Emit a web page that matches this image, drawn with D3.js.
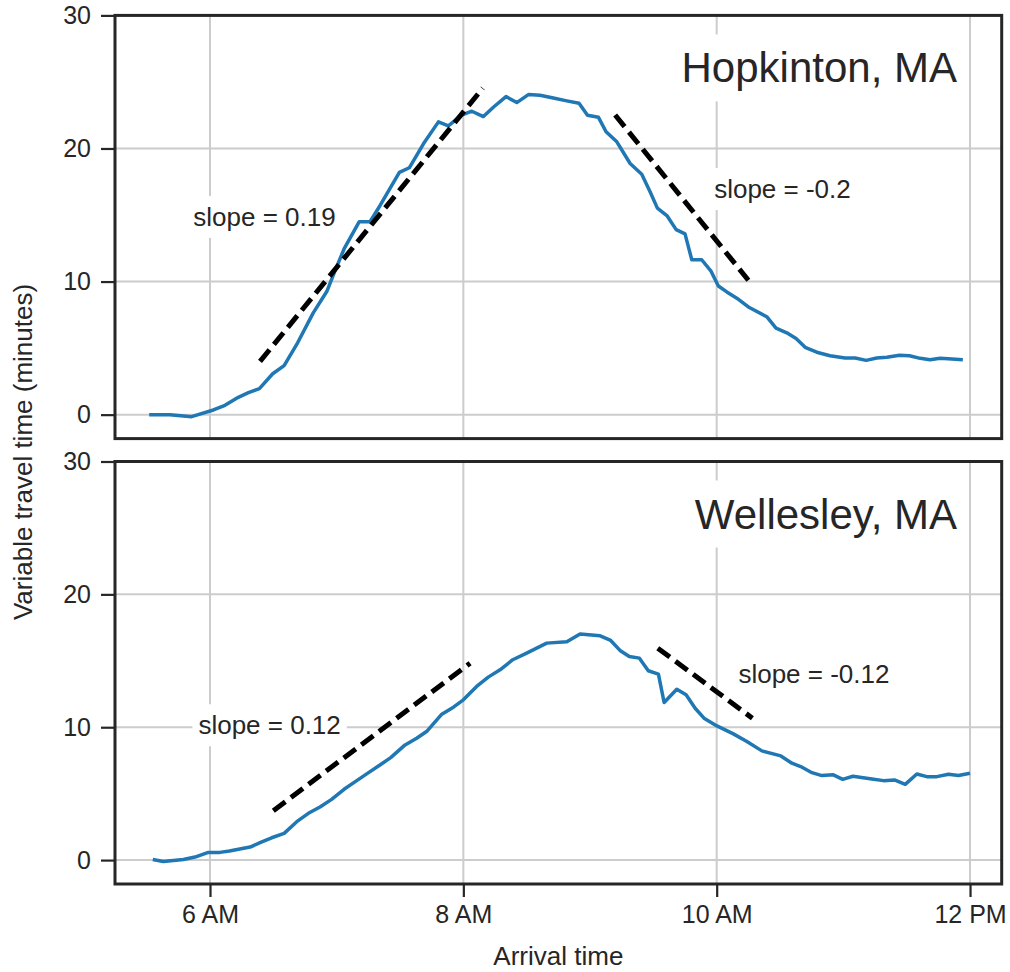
<!DOCTYPE html>
<html>
<head>
<meta charset="utf-8">
<script src="https://cdn.jsdelivr.net/npm/d3@7"></script>
<style>
    body { margin: 0; background: #fff; }
    text { font-family: "Liberation Sans", Arial, sans-serif; fill: #262626; }
</style>
</head>
<body>
<div id="chart"></div>
<script>

//******************************************************************************
//**  Data (minutes after midnight, variable travel time in minutes)
//******************************************************************************
var hopkintonTimes = [331.2, 341.0, 351.3, 361.6, 367.1, 373.4, 378.2, 383.4, 389.7, 395.1,
    401.5, 408.9, 415.3, 419.2, 423.5, 430.7, 435.8, 440.5, 449.7, 454.4,
    461.1, 468.2, 472.9, 479.2, 484.0, 489.5, 494.2, 500.2, 505.3, 510.8,
    516.3, 522.6, 529.0, 534.8, 538.8, 544.0, 547.6, 552.7, 559.0, 564.5,
    568.5, 571.9, 576.4, 580.8, 585.0, 588.2, 592.9, 597.2, 600.8, 604.8,
    610.3, 615.0, 623.7, 628.1, 633.2, 637.6, 641.9, 647.4, 653.7, 660.8,
    665.6, 670.8, 675.8, 680.6, 686.6, 691.3, 696.4, 701.1, 705.8, 711.4, 716.6];
var hopkintonValues = [0.0, 0.0, -0.15, 0.35, 0.7, 1.3, 1.65, 1.95, 3.07, 3.68,
    5.4, 7.65, 9.25, 10.8, 12.45, 14.5, 14.5, 15.7, 18.2, 18.55,
    20.35, 22.0, 21.7, 22.5, 22.8, 22.4, 23.1, 23.9, 23.45, 24.05,
    24.0, 23.8, 23.58, 23.4, 22.5, 22.34, 21.26, 20.5, 18.87, 18.06,
    16.73, 15.52, 14.96, 13.9, 13.58, 11.64, 11.64, 10.81, 9.67, 9.22,
    8.67, 8.09, 7.36, 6.5, 6.15, 5.72, 5.06, 4.69, 4.43, 4.26,
    4.26, 4.08, 4.26, 4.31, 4.46, 4.43, 4.23, 4.13, 4.23, 4.18, 4.13];

var wellesleyTimes = [332.9, 337.9, 347.4, 352.9, 359.2, 364.7, 369.2, 379.0, 383.7, 389.2,
    395.1, 401.1, 406.6, 412.1, 417.6, 423.5, 429.5, 435.8, 440.5, 445.6,
    452.4, 457.9, 462.9, 469.8, 475.3, 480.0, 486.3, 491.8, 497.4, 503.4,
    510.0, 519.5, 529.0, 535.3, 544.8, 549.8, 554.2, 558.6, 563.4, 567.6,
    572.4, 575.1, 581.1, 585.5, 589.8, 594.0, 600.1, 607.9, 614.3, 621.4,
    630.4, 635.6, 639.8, 645.1, 649.8, 655.0, 659.7, 664.5, 673.5, 679.0,
    684.2, 689.3, 694.8, 699.5, 704.3, 709.8, 714.5, 720.0];
var wellesleyValues = [0.05, -0.1, 0.05, 0.23, 0.58, 0.58, 0.68, 0.98, 1.31, 1.68,
    2.01, 2.89, 3.52, 4.0, 4.57, 5.33, 5.98, 6.66, 7.16, 7.71,
    8.67, 9.17, 9.72, 10.98, 11.51, 12.06, 13.07, 13.77, 14.32, 15.08,
    15.58, 16.33, 16.43, 17.01, 16.88, 16.53, 15.78, 15.33, 15.2, 14.25,
    14.0, 11.86, 12.86, 12.44, 11.43, 10.68, 10.1, 9.5, 8.92, 8.22,
    7.84, 7.29, 7.04, 6.58, 6.36, 6.43, 6.08, 6.31, 6.11, 5.98,
    6.03, 5.7, 6.48, 6.28, 6.28, 6.46, 6.36, 6.53];

// fitted slope segments: [startTime, startValue, endTime, endValue]
var hopkintonFits = [[383.7, 4.0, 489.2, 24.53], [551.9, 22.52, 615.0, 10.1]];
var wellesleyFits = [[390.0, 3.72, 483.2, 14.82], [572.1, 15.95, 616.9, 10.68]];

// slope labels: [text, time at left edge, value at baseline]
var hopkintonSlopes = [["slope = 0.19", 352.1, 14.18], ["slope = -0.2", 598.8, 16.28]];
var wellesleySlopes = [["slope = 0.12", 354.5, 9.47], ["slope = -0.12", 610.3, 13.31]];

var panelTitles = ["Hopkinton, MA", "Wellesley, MA"];
var xTicks = [360, 480, 600, 720];
var xTickLabels = ["6 AM", "8 AM", "10 AM", "12 PM"];
var yTicks = [0, 10, 20, 30];


//******************************************************************************
//**  Chart
//******************************************************************************
var width = 1010, height = 972;
var left = 115, right = 1001.7;
var panelRanges = [[438.6, 15.4], [884, 461.5]];
var ink = "#262626", grid = "#cccccc", blue = "#1f77b4";
var font = '"Liberation Sans", Arial, sans-serif';

var svg = d3.select("#chart").append("svg")
    .attr("width", width)
    .attr("height", height);

var x = d3.scaleLinear().domain([315, 735]).range([left, right]);

var panels = [
    {title: panelTitles[0], times: hopkintonTimes, values: hopkintonValues, fits: hopkintonFits, slopes: hopkintonSlopes},
    {title: panelTitles[1], times: wellesleyTimes, values: wellesleyValues, fits: wellesleyFits, slopes: wellesleySlopes}
];

// add a white box behind a text node (like a matplotlib bbox)
var addBox = function(g, textNode, pad){
    var b = textNode.node().getBBox();
    g.insert("rect", function(){ return textNode.node(); })
        .attr("x", b.x - pad).attr("y", b.y - pad)
        .attr("width", b.width + 2*pad).attr("height", b.height + 2*pad)
        .attr("fill", "#fff");
};

panels.forEach(function(p, idx){
    var r = panelRanges[idx];
    var y = d3.scaleLinear().domain([-1.8, 30]).range(r);
    var g = svg.append("g");

  // grid
    g.selectAll(".gx").data(xTicks).enter().append("line")
        .attr("x1", d => x(d)).attr("x2", d => x(d))
        .attr("y1", r[0]).attr("y2", r[1])
        .attr("stroke", grid).attr("stroke-width", 2);
    g.selectAll(".gy").data(yTicks).enter().append("line")
        .attr("x1", left).attr("x2", right)
        .attr("y1", d => y(d)).attr("y2", d => y(d))
        .attr("stroke", grid).attr("stroke-width", 2);

  // data line
    var pts = p.times.map((t, i) => [t, p.values[i]]);
    g.append("path")
        .datum(pts)
        .attr("fill", "none")
        .attr("stroke", blue)
        .attr("stroke-width", 3.5)
        .attr("stroke-linejoin", "round")
        .attr("d", d3.line().x(d => x(d[0])).y(d => y(d[1])));

  // fitted slopes
    p.fits.forEach(function(f){
        g.append("line")
            .attr("x1", x(f[0])).attr("y1", y(f[1]))
            .attr("x2", x(f[2])).attr("y2", y(f[3]))
            .attr("stroke", "#000")
            .attr("stroke-width", 5)
            .attr("stroke-dasharray", "15,7");
    });

  // slope labels
    p.slopes.forEach(function(s){
        var t = g.append("text")
            .attr("x", x(s[1])).attr("y", y(s[2]))
            .attr("font-size", 26)
            .text(s[0]);
        addBox(g, t, 6);
    });

  // title
    var title = g.append("text")
        .attr("x", 957).attr("y", r[1] + 67)
        .attr("text-anchor", "end")
        .attr("font-size", 42)
        .text(p.title);
    addBox(g, title, 10);

  // frame
    g.append("rect")
        .attr("x", left).attr("y", r[1])
        .attr("width", right - left).attr("height", r[0] - r[1])
        .attr("fill", "none")
        .attr("stroke", ink)
        .attr("stroke-width", 3);

  // y axis
    var yAxis = d3.axisLeft(y).tickValues(yTicks).tickSize(14).tickPadding(10);
    var ya = g.append("g").attr("transform", "translate(" + left + ",0)").call(yAxis);
    ya.select(".domain").remove();
    ya.selectAll("line").attr("stroke", ink).attr("stroke-width", 2.2);
    ya.selectAll("text").attr("font-size", 25).attr("fill", ink).style("font-family", font);

  // x axis only on the bottom panel
    if (idx === 1){
        var xAxis = d3.axisBottom(x).tickValues(xTicks)
            .tickFormat((d, i) => xTickLabels[i]).tickSize(13).tickPadding(8);
        var xa = g.append("g").attr("transform", "translate(0," + r[0] + ")").call(xAxis);
        xa.select(".domain").remove();
        xa.selectAll("line").attr("stroke", ink).attr("stroke-width", 2.2);
        xa.selectAll("text").attr("font-size", 25).attr("fill", ink).style("font-family", font);
    }
});

// axis labels
svg.append("text")
    .attr("x", (left + right)/2).attr("y", 965)
    .attr("text-anchor", "middle")
    .attr("font-size", 26)
    .text("Arrival time");

svg.append("text")
    .attr("transform", "translate(32,452) rotate(-90)")
    .attr("text-anchor", "middle")
    .attr("font-size", 26)
    .text("Variable travel time (minutes)");

</script>
</body>
</html>
